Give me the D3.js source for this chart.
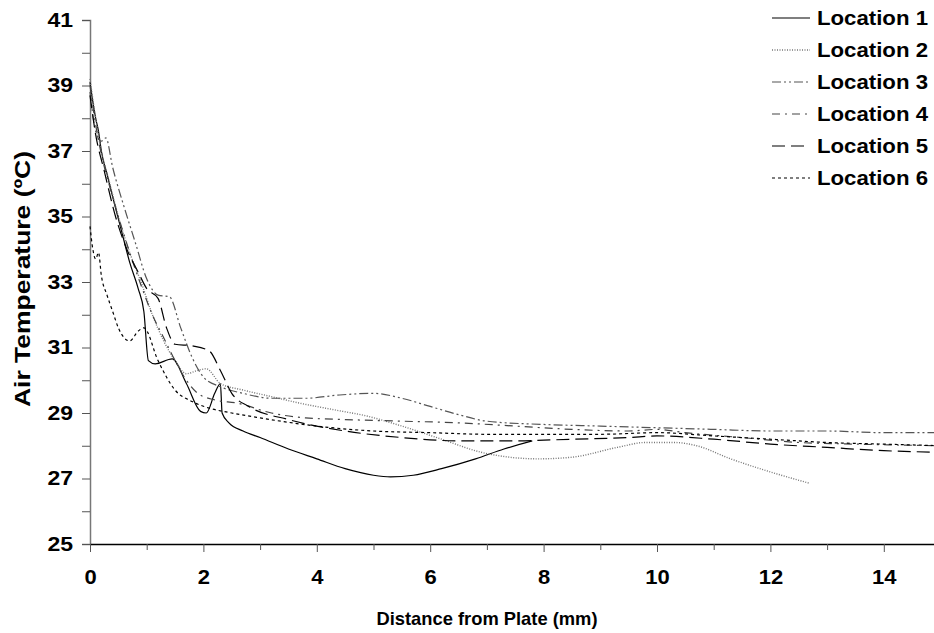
<!DOCTYPE html>
<html>
<head>
<meta charset="utf-8">
<script src="https://cdn.jsdelivr.net/npm/d3@7"></script>
<style>
  body { margin: 0; background: #fff; }
  svg { display: block; font-family: "Liberation Sans", Arial, sans-serif; }
</style>
</head>
<body>
<svg id="chart" width="934" height="633"></svg>
<script>
// readings: [distance mm, air temperature C]
const loc1 = [[0,39.1],[0.05,38.5],[0.1,38.0],[0.15,37.6],[0.2,37.0],[0.3,36.3],[0.4,35.6],[0.55,34.6],[0.7,33.6],[0.85,32.8],[0.95,32.1],[1.03,30.6],[1.15,30.5],[1.45,30.65],[1.7,29.9],[1.95,29.05],[2.05,29.0],[2.2,29.6],[2.3,29.9],[2.33,29.0],[2.45,28.7],[2.7,28.45],[3,28.25],[3.5,27.9],[4,27.6],[4.5,27.3],[5,27.1],[5.3,27.05],[5.7,27.1],[6.2,27.3],[6.8,27.6],[7.3,27.9],[7.8,28.15]];
const loc2 = [[0,39.2],[0.1,38.0],[0.2,37.0],[0.35,36.0],[0.5,35.0],[0.7,33.9],[0.9,33.0],[1.1,32.0],[1.3,31.2],[1.5,30.6],[1.7,30.2],[1.9,30.3],[2.05,30.35],[2.3,29.9],[2.7,29.7],[3.2,29.5],[3.7,29.3],[4.3,29.1],[4.9,28.9],[5.5,28.6],[6.2,28.2],[6.9,27.8],[7.4,27.65],[7.9,27.6],[8.5,27.65],[9.3,27.95],[9.8,28.1],[10.3,28.1],[10.7,28.0],[11.3,27.6],[12,27.2],[12.7,26.85]];
const loc3 = [[0,38.8],[0.1,37.6],[0.2,37.3],[0.28,37.4],[0.4,36.5],[0.6,35.3],[0.8,34.2],[1.0,33.1],[1.2,32.6],[1.4,32.55],[1.6,31.6],[1.8,30.7],[2.0,30.1],[2.3,29.8],[2.7,29.6],[3.2,29.45],[3.8,29.45],[4.4,29.55],[5.0,29.6],[5.5,29.45],[6.0,29.2],[6.5,28.95],[7.0,28.75],[8,28.65],[9,28.6],[10,28.55],[11,28.5],[12,28.45],[13,28.45],[14,28.4],[15,28.4]];
const loc4 = [[0,39.0],[0.1,37.8],[0.2,36.9],[0.35,35.9],[0.5,35.0],[0.7,33.9],[0.9,32.9],[1.1,32.0],[1.3,31.3],[1.5,30.6],[1.7,30.0],[1.9,29.6],[2.2,29.4],[2.6,29.3],[3.2,29.0],[3.8,28.85],[4.5,28.8],[5.5,28.75],[6.5,28.7],[7.5,28.6],[8.5,28.5],[9.5,28.45],[10,28.5],[10.5,28.4],[11.5,28.25],[12.5,28.1],[13.5,28.05],[15,28.0]];
const loc5 = [[0,38.7],[0.1,37.5],[0.25,36.4],[0.45,35.0],[0.65,34.0],[0.85,33.3],[1.0,32.8],[1.2,32.5],[1.35,31.6],[1.5,31.1],[1.8,31.05],[2.1,30.9],[2.3,30.3],[2.5,29.6],[2.8,29.2],[3.5,28.8],[4.5,28.45],[5.5,28.25],[6.5,28.15],[7.5,28.15],[8.5,28.2],[9.5,28.25],[10,28.3],[11,28.2],[12,28.05],[13,27.95],[14,27.85],[15,27.8]];
const loc6 = [[0,34.7],[0.05,34.0],[0.1,33.7],[0.15,33.9],[0.2,33.2],[0.3,32.6],[0.4,32.1],[0.5,31.6],[0.6,31.3],[0.7,31.2],[0.85,31.5],[0.95,31.6],[1.2,30.6],[1.5,29.7],[1.8,29.35],[2.1,29.15],[2.5,29.0],[3,28.85],[4,28.6],[5,28.45],[6,28.4],[7,28.35],[8,28.35],[9,28.35],[10,28.4],[11,28.3],[12,28.2],[13,28.1],[14,28.05],[15,28.0]];

const seriesNames = ["Location 1", "Location 2", "Location 3", "Location 4", "Location 5", "Location 6"];
const seriesData = [loc1, loc2, loc3, loc4, loc5, loc6];
const seriesColor = ["#000", "#777", "#555", "#444", "#000", "#000"];
const seriesDash = [null, "1,1.5", "9,3,2,3,2,3", "8,5,2,5", "13,6", "3,3"];

const xTicks = d3.range(0, 16, 1);
const yTicks = d3.range(25, 42, 1);

const svg = d3.select("#chart");

const x = d3.scaleLinear().domain([0, 15]).range([90, 940.5]);
const y = d3.scaleLinear().domain([25, 41]).range([544, 20]);

// the original text is a bit wider than Liberation Sans
function widen(sel, k) {
  sel.each(function () {
    const w = this.getComputedTextLength();
    if (w > 0) d3.select(this).attr("textLength", w * k).attr("lengthAdjust", "spacingAndGlyphs");
  });
}

// y axis
const yAxis = svg.append("g")
  .attr("transform", "translate(90,0)")
  .call(d3.axisLeft(y).tickValues(yTicks).tickSize(8)
    .tickFormat(d => (d - 25) % 2 === 0 ? d : ""));
yAxis.select(".domain").attr("stroke", "#777").attr("stroke-width", 1.5);
yAxis.selectAll(".tick line").attr("stroke", "#555");
yAxis.selectAll(".tick text")
  .attr("x", -17)
  .attr("font-size", 20)
  .attr("font-weight", "bold")
  .attr("fill", "#000")
  .call(widen, 1.15);

// x axis
const xAxis = svg.append("g")
  .attr("transform", "translate(0,544)")
  .call(d3.axisBottom(x).tickValues(xTicks).tickSizeOuter(0)
    .tickFormat(d => d % 2 === 0 && d < 15 ? d : ""));
xAxis.select(".domain").attr("stroke", "#000").attr("stroke-width", 1.5);
xAxis.selectAll(".tick line")
  .attr("stroke", "#555")
  .attr("y2", d => d % 2 === 0 ? 8 : 6);
xAxis.selectAll(".tick text")
  .attr("y", 26)
  .attr("font-size", 20)
  .attr("font-weight", "bold")
  .attr("fill", "#000")
  .call(widen, 1.1);

// titles
svg.append("text")
  .attr("x", 487).attr("y", 625)
  .attr("text-anchor", "middle")
  .attr("font-size", 19).attr("font-weight", "bold")
  .attr("textLength", 221).attr("lengthAdjust", "spacingAndGlyphs")
  .text("Distance from Plate (mm)");

svg.append("text")
  .attr("transform", "translate(30,279) rotate(-90)")
  .attr("text-anchor", "middle")
  .attr("font-size", 22).attr("font-weight", "bold")
  .attr("textLength", 256).attr("lengthAdjust", "spacingAndGlyphs")
  .text("Air Temperature (ºC)");

// curves
const line = d3.line()
  .x(d => x(d[0]))
  .y(d => y(d[1]))
  .curve(d3.curveMonotoneX);

svg.append("g")
  .selectAll("path")
  .data(seriesData)
  .join("path")
  .attr("fill", "none")
  .attr("stroke", (d, i) => seriesColor[i])
  .attr("stroke-width", (d, i) => i === 1 ? 1.4 : 1.2)
  .attr("stroke-dasharray", (d, i) => seriesDash[i])
  .attr("d", line);

// legend
const legend = svg.append("g")
  .selectAll("g")
  .data(seriesNames)
  .join("g")
  .attr("transform", (d, i) => `translate(772,${18 + i * 32})`);

legend.append("line")
  .attr("x1", 0).attr("x2", 38)
  .attr("stroke", (d, i) => seriesColor[i])
  .attr("stroke-width", (d, i) => i === 1 ? 1.4 : 1.2)
  .attr("stroke-dasharray", (d, i) => seriesDash[i]);

legend.append("text")
  .attr("x", 45)
  .attr("dy", "0.36em")
  .attr("font-size", 20)
  .attr("font-weight", "bold")
  .attr("textLength", 111).attr("lengthAdjust", "spacingAndGlyphs")
  .text(d => d);
</script>
</body>
</html>
